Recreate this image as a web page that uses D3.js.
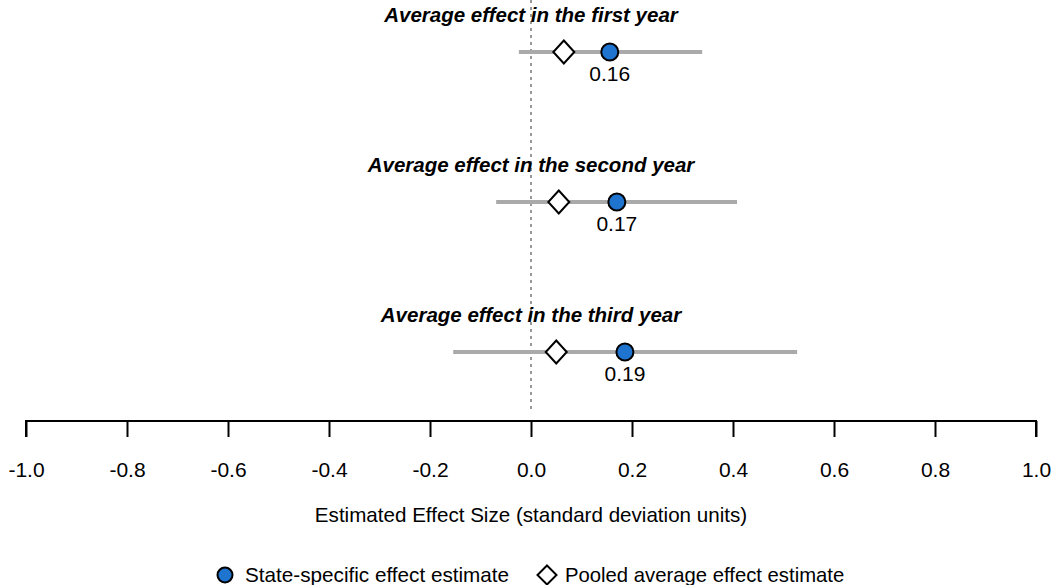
<!DOCTYPE html>
<html>
<head>
<meta charset="utf-8">
<script src="https://cdn.jsdelivr.net/npm/d3@7"></script>
<style>
  body { margin: 0; background: #fff; }
  svg { font-family: "Liberation Sans", Arial, sans-serif; }
</style>
</head>
<body>
<div id="chart"></div>
<script>
const titles = ["Average effect in the first year", "Average effect in the second year", "Average effect in the third year"];
const estimates = [0.156, 0.170, 0.186];
const estLabels = ["0.16", "0.17", "0.19"];
const pooled = [0.065, 0.055, 0.050];
const ciLow = [-0.024, -0.069, -0.154];
const ciHigh = [0.339, 0.408, 0.527];
const tickValues = [-1.0, -0.8, -0.6, -0.4, -0.2, 0.0, 0.2, 0.4, 0.6, 0.8, 1.0];

const width = 1053, height = 585;

const svg = d3.select("#chart").append("svg")
  .attr("width", width)
  .attr("height", height);

const x = d3.scaleLinear().domain([-1, 1]).range([26, 1036]);
const y = d3.scalePoint().domain(d3.range(titles.length)).range([52, 352]);

// zero reference line
svg.append("line")
  .attr("x1", x(0)).attr("x2", x(0))
  .attr("y1", 0).attr("y2", 410)
  .attr("stroke", "#999")
  .attr("stroke-width", 2)
  .attr("stroke-dasharray", "3,4");

const rows = svg.selectAll(".row").data(titles).enter()
  .append("g").attr("class", "row")
  .attr("transform", (d, i) => `translate(0,${y(i)})`);

rows.append("text")
  .attr("x", x(0))
  .attr("y", -30)
  .attr("text-anchor", "middle")
  .style("font-size", "20.5px")
  .style("font-weight", "bold")
  .style("font-style", "italic")
  .text(d => d);

rows.append("line")
  .attr("x1", (d, i) => x(ciLow[i]))
  .attr("x2", (d, i) => x(ciHigh[i]))
  .attr("stroke", "#aaa")
  .attr("stroke-width", 4);

const diamond = (w, h) => `M0,${-h}L${w},0L0,${h}L${-w},0Z`;

rows.append("path")
  .attr("d", diamond(10.5, 11.5))
  .attr("transform", (d, i) => `translate(${x(pooled[i])},0)`)
  .attr("fill", "#fff")
  .attr("stroke", "#000")
  .attr("stroke-width", 2);

rows.append("circle")
  .attr("cx", (d, i) => x(estimates[i]))
  .attr("r", 8.5)
  .attr("fill", "#1f74d0")
  .attr("stroke", "#000")
  .attr("stroke-width", 2);

rows.append("text")
  .attr("x", (d, i) => x(estimates[i]))
  .attr("y", 29)
  .attr("text-anchor", "middle")
  .style("font-size", "21px")
  .text((d, i) => estLabels[i]);

// x axis
const axis = svg.append("g")
  .attr("transform", "translate(0,421)")
  .call(d3.axisBottom(x).tickValues(tickValues).tickSize(16).tickPadding(22)
    .tickFormat(d => d3.format(".1f")(d).replace("\u2212", "-")));
axis.select(".domain").attr("stroke-width", 2).attr("d", `M${x(-1)},16V0H${x(1)}V16`);
axis.selectAll(".tick line").attr("stroke-width", 2);
axis.selectAll(".tick text")
  .attr("dy", null)
  .attr("y", 56)
  .style("font-size", "21px")
  .style("font-family", "'Liberation Sans', Arial, sans-serif")
  .attr("fill", "#000");

svg.append("text")
  .attr("x", x(0))
  .attr("y", 522)
  .attr("text-anchor", "middle")
  .style("font-size", "20.6px")
  .text("Estimated Effect Size (standard deviation units)");

// legend
const legend = svg.append("g").attr("transform", "translate(0,575)");
legend.append("circle")
  .attr("cx", 225).attr("r", 7.5)
  .attr("fill", "#1f74d0").attr("stroke", "#000").attr("stroke-width", 2);
legend.append("text")
  .attr("x", 245).attr("y", 6.5)
  .style("font-size", "20.7px")
  .text("State-specific effect estimate");
legend.append("path")
  .attr("d", diamond(9.5, 9.5))
  .attr("transform", "translate(547,0)")
  .attr("fill", "#fff").attr("stroke", "#000").attr("stroke-width", 2);
legend.append("text")
  .attr("x", 565).attr("y", 6.5)
  .style("font-size", "20.3px")
  .text("Pooled average effect estimate");
</script>
</body>
</html>
